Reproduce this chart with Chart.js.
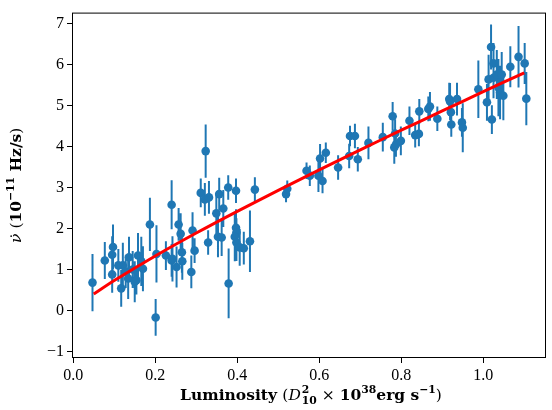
<!DOCTYPE html>
<html>
<head>
<meta charset="utf-8">
<script src="https://cdn.jsdelivr.net/npm/chart.js@4.4.1/dist/chart.umd.min.js"></script>
<style>
  body { margin: 0; background: #fff; }
  #wrap { width: 552px; height: 410px; }
</style>
</head>
<body>
<div id="wrap"><canvas id="chart" width="552" height="410"></canvas></div>
<script>
// luminosity (D10^2 x 1e38 erg/s), spin-up rate (1e-11 Hz/s) and its error
const lum = [
  0.047, 0.077, 0.097, 0.095, 0.095, 0.117, 0.121, 0.134, 0.136, 0.150,
  0.154, 0.158, 0.166, 0.170, 0.145, 0.128, 0.187, 0.201, 0.203, 0.110,
  0.240, 0.226, 0.240, 0.252, 0.257, 0.262, 0.242, 0.265, 0.266, 0.288,
  0.291, 0.296, 0.311, 0.321, 0.323, 0.331, 0.329, 0.349, 0.356, 0.366,
  0.353, 0.362, 0.378, 0.379, 0.397, 0.397, 0.398, 0.394, 0.398, 0.406,
  0.416, 0.431, 0.443,
  0.519, 0.522, 0.569, 0.577, 0.598, 0.602, 0.616, 0.608, 0.646, 0.675,
  0.687, 0.673, 0.694, 0.720, 0.755, 0.779, 0.785, 0.783, 0.787, 0.799,
  0.820, 0.834, 0.843, 0.844, 0.866, 0.870, 0.888, 0.917, 0.919, 0.936,
  0.921, 0.922, 0.948, 0.950, 0.988, 1.019, 1.025, 1.009, 1.013, 1.025,
  1.033, 1.045, 1.037, 1.041, 1.049, 1.021, 1.066, 1.086, 1.101, 1.105
];
const nudot = [
  0.68, 1.22, 1.55, 1.36, 0.88, 0.54, 1.10, 0.78, 1.30, 0.70,
  0.74, 1.34, 1.20, 1.02, 1.00, 0.95, 2.10, -0.17, 1.38, 1.10,
  2.58, 1.34, 1.22, 1.06, 2.10, 1.87, 1.26, 1.42, 1.20, 0.94,
  1.95, 1.46, 2.87, 2.71, 3.89, 2.76, 1.66, 2.37, 2.84, 2.49,
  1.80, 1.78, 3.00, 0.66, 2.92, 2.02, 1.90, 1.80, 1.66, 1.54,
  1.52, 1.69, 2.95,
  2.84, 2.97, 3.41, 3.29, 3.29, 3.71, 3.85, 3.16, 3.49, 4.26,
  4.26, 3.77, 3.69, 4.09, 4.23, 4.74, 4.32, 3.98, 4.05, 4.14,
  4.63, 4.28, 4.31, 4.86, 4.92, 4.98, 4.68, 5.16, 5.10, 5.16,
  4.84, 4.54, 4.59, 4.46, 5.40, 6.43, 6.03, 5.08, 5.64, 5.68,
  5.76, 5.76, 5.44, 5.32, 5.24, 4.66, 5.95, 6.19, 6.03, 5.17
];
const nudotErr = [
  0.70, 0.45, 0.55, 0.45, 0.45, 0.45, 0.55, 0.50, 0.50, 0.50,
  0.35, 0.55, 0.60, 0.55, 0.45, 0.40, 0.65, 0.45, 0.70, 0.40,
  0.60, 0.35, 0.40, 0.50, 0.40, 0.50, 0.55, 0.50, 0.45, 0.40,
  0.45, 0.30, 0.35, 0.40, 0.65, 0.40, 0.30, 0.50, 0.40, 0.45,
  0.50, 0.45, 0.30, 0.85, 0.30, 0.45, 0.35, 0.60, 0.45, 0.45,
  0.40, 0.75, 0.30,
  0.20, 0.20, 0.20, 0.25, 0.40, 0.35, 0.25, 0.30, 0.30, 0.25,
  0.30, 0.30, 0.30, 0.40, 0.35, 0.35, 0.35, 0.40, 0.30, 0.35,
  0.35, 0.30, 0.30, 0.30, 0.30, 0.35, 0.30, 0.40, 0.45, 0.40,
  0.30, 0.30, 0.35, 0.60, 0.70, 0.55, 0.50, 0.45, 0.60, 0.50,
  0.60, 0.55, 0.70, 0.65, 0.60, 0.35, 0.50, 0.75, 0.50, 0.65
];

// fitted relation
const fitLum = [0.05, 0.1, 0.2, 0.3, 0.4, 0.5, 0.6, 0.7, 0.8, 0.9, 1.0, 1.1];
const fitNudot = [0.40, 0.73, 1.33, 1.89, 2.42, 2.93, 3.43, 3.92, 4.40, 4.87, 5.34, 5.80];

const xTicks = [0.0, 0.2, 0.4, 0.6, 0.8, 1.0];
const yTicks = [-1, 0, 1, 2, 3, 4, 5, 6, 7];

// axis titles as runs: [text, style, shift]
// shift: 0 normal, 1 superscript, 2 stacked sup+sub, 3 letter with a dot above
const xTitleRuns = [
    ['Luminosity ', 'bold', 0], ['(', 'normal', 0], ['D', 'italic', 0],
    [['2', '10'], 'bold', 2], [' \u00d7 ', 'normal', 0], ['10', 'bold', 0],
    ['38', 'bold', 1], ['erg s', 'bold', 0], ['\u22121', 'bold', 1], [')', 'normal', 0]
];
const yTitleRuns = [
    ['\u03bd', 'italic', 3], [' (', 'normal', 0], ['10', 'bold', 0],
    ['\u221211', 'bold', 1], [' Hz/s', 'bold', 0], [')', 'normal', 0]
];

const points = lum.map((x, i) => ({ x: x, y: nudot[i] }));
const errSegments = [];
lum.forEach((x, i) => {
    errSegments.push({ x: x, y: nudot[i] - nudotErr[i] });
    errSegments.push({ x: x, y: nudot[i] + nudotErr[i] });
    errSegments.push({ x: x, y: null });
});
const fitLine = fitLum.map((x, i) => ({ x: x, y: fitNudot[i] }));

const FONT = "'Liberation Serif', 'DejaVu Serif', serif";
const TITLE_FONT = "'DejaVu Serif', 'Liberation Serif', serif";
const MAIN = 15.5, SCRIPT = 10.8;

function fontFor(style, size) {
    if (style === 'bold') return 'bold ' + size + 'px ' + TITLE_FONT;
    if (style === 'italic') return 'italic ' + size + 'px ' + TITLE_FONT;
    return size + 'px ' + TITLE_FONT;
}

function runWidth(ctx, run) {
    const [text, style, shift] = run;
    if (shift === 2) {
        ctx.font = fontFor(style, SCRIPT);
        return Math.max(ctx.measureText(text[0]).width, ctx.measureText(text[1]).width) + 1;
    }
    ctx.font = fontFor(style, shift === 1 ? SCRIPT : MAIN);
    return ctx.measureText(text).width;
}

// draws runs centred horizontally on the origin, baseline at y=0
function drawRuns(ctx, runs) {
    let total = 0;
    runs.forEach(r => { total += runWidth(ctx, r); });
    let x = -total / 2;
    ctx.textBaseline = 'alphabetic';
    ctx.textAlign = 'left';
    runs.forEach(r => {
        const [text, style, shift] = r;
        const w = runWidth(ctx, r);
        if (shift === 2) {
            ctx.font = fontFor(style, SCRIPT);
            ctx.fillText(text[0], x + 1, -7);
            ctx.fillText(text[1], x + 1, 4);
        } else if (shift === 1) {
            ctx.font = fontFor(style, SCRIPT);
            ctx.fillText(text, x, -7);
        } else if (shift === 3) {
            ctx.font = fontFor(style, MAIN);
            ctx.fillText(text, x, 0);
            ctx.font = fontFor('normal', MAIN);
            ctx.textAlign = 'center';
            ctx.fillText('\u02d9', x + w / 2 + 2, 1);
            ctx.textAlign = 'left';
        } else {
            ctx.font = fontFor(style, MAIN);
            ctx.fillText(text, x, 0);
        }
        x += w;
    });
}

const axisTitles = {
    id: 'axisTitles',
    afterDraw(chart) {
        const a = chart.chartArea;
        const ctx = chart.ctx;
        ctx.save();
        ctx.fillStyle = '#000';
        ctx.translate((a.left + a.right) / 2 + 2, 400);
        drawRuns(ctx, xTitleRuns);
        ctx.restore();
        ctx.save();
        ctx.fillStyle = '#000';
        ctx.translate(21, (a.top + a.bottom) / 2);
        ctx.rotate(-Math.PI / 2);
        drawRuns(ctx, yTitleRuns);
        ctx.restore();
    }
};

// box around the plot area, like matplotlib spines
const frame = {
    id: 'frame',
    afterDraw(chart) {
        const a = chart.chartArea;
        const ctx = chart.ctx;
        ctx.save();
        ctx.strokeStyle = '#000';
        ctx.lineWidth = 1;
        ctx.strokeRect(a.left + 0.5, a.top + 0.5, a.right - a.left - 1, a.bottom - a.top - 1);
        ctx.restore();
    }
};

new Chart(document.getElementById('chart').getContext('2d'), {
    type: 'scatter',
    data: {
        datasets: [
            {
                label: 'fit',
                data: fitLine,
                showLine: true,
                borderColor: '#ff0000',
                borderWidth: 3,
                pointRadius: 0,
                tension: 0.3,
                order: 0
            },
            {
                label: 'data',
                data: points,
                backgroundColor: '#1f77b4',
                borderWidth: 0,
                pointRadius: 4.3,
                order: 1
            },
            {
                label: 'errors',
                data: errSegments,
                showLine: true,
                spanGaps: false,
                borderColor: '#1f77b4',
                borderWidth: 2,
                pointRadius: 0,
                order: 2
            }
        ]
    },
    options: {
        responsive: false,
        animation: false,
        layout: { padding: { top: 5, right: 6, left: 0, bottom: 0 } },
        plugins: {
            legend: { display: false },
            tooltip: { enabled: false }
        },
        scales: {
            x: {
                type: 'linear',
                min: -0.003,
                max: 1.153,
                afterBuildTicks: s => { s.ticks = xTicks.map(v => ({ value: v })); },
                afterFit: s => { s.height = 52; },
                border: { display: false },
                grid: { drawOnChartArea: false, drawTicks: true, tickLength: 5, color: '#000' },
                ticks: {
                    color: '#000',
                    padding: 3,
                    font: { family: FONT, size: 16 },
                    callback: v => v.toFixed(1)
                },
                title: { display: false }
            },
            y: {
                type: 'linear',
                min: -1.16,
                max: 7.27,
                afterBuildTicks: s => { s.ticks = yTicks.map(v => ({ value: v })); },
                afterFit: s => { s.width = 72; },
                border: { display: false },
                grid: { drawOnChartArea: false, drawTicks: true, tickLength: 5, color: '#000' },
                ticks: {
                    color: '#000',
                    padding: 3,
                    font: { family: FONT, size: 16 },
                    callback: v => (v < 0 ? '\u2212' + Math.abs(v) : String(v))
                },
                title: { display: false }
            }
        }
    },
    plugins: [frame, axisTitles]
});
</script>
</body>
</html>
